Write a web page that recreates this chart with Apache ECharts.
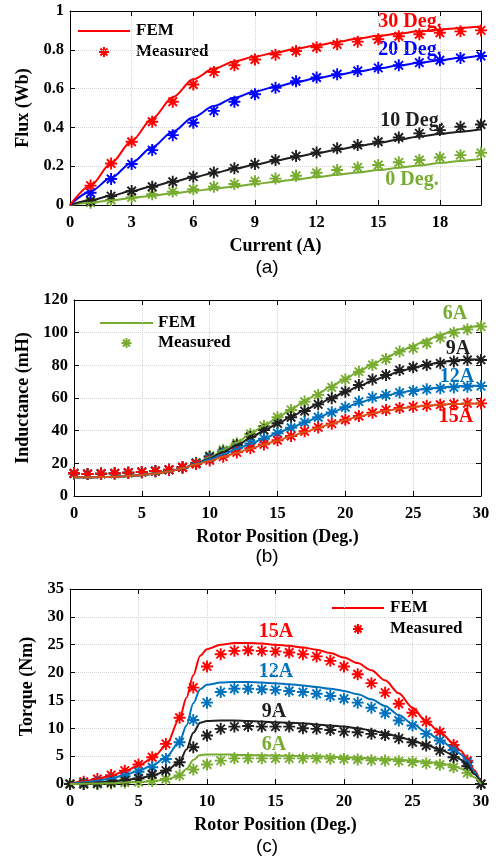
<!DOCTYPE html>
<html><head><meta charset="utf-8">
<script src="https://cdn.jsdelivr.net/npm/echarts@6/dist/echarts.min.js"></script>
<style>html,body{margin:0;padding:0;background:#fff}#c{width:496px;height:859px}</style>
</head><body><div id="c"></div><script>
// ---------- (a) Flux vs Current ----------
const fluxCurrentFem = [0,1,2,3,4,5,6,7,8,9,10,11,12,13,14,15,16,17,18,19,20];
const flux30Fem = [0,0.10,0.215,0.33,0.445,0.555,0.648,0.703,0.74,0.765,0.785,0.805,0.823,0.84,0.858,0.872,0.884,0.895,0.905,0.913,0.92];
const flux20Fem = [0,0.07,0.14,0.218,0.298,0.378,0.452,0.51,0.553,0.585,0.61,0.633,0.653,0.671,0.688,0.704,0.719,0.733,0.746,0.759,0.771];
const flux10Fem = [0,0.024,0.048,0.072,0.096,0.12,0.143,0.165,0.187,0.208,0.228,0.248,0.267,0.285,0.303,0.32,0.337,0.353,0.366,0.378,0.39];
const flux0Fem = [0,0.012,0.024,0.036,0.048,0.06,0.072,0.084,0.096,0.108,0.12,0.132,0.144,0.156,0.168,0.18,0.192,0.204,0.216,0.227,0.238];
const fluxCurrentMeas = [1,2,3,4,5,6,7,8,9,10,11,12,13,14,15,16,17,18,19,20];
const flux30Meas = [0.10,0.214,0.326,0.429,0.532,0.621,0.686,0.72,0.75,0.775,0.794,0.813,0.828,0.842,0.854,0.87,0.88,0.888,0.895,0.90];
const flux20Meas = [0.063,0.134,0.211,0.283,0.36,0.424,0.485,0.532,0.571,0.604,0.638,0.657,0.674,0.691,0.707,0.72,0.734,0.746,0.758,0.768];
const flux10Meas = [0.022,0.046,0.072,0.094,0.12,0.146,0.168,0.189,0.211,0.232,0.252,0.271,0.292,0.309,0.326,0.348,0.369,0.386,0.403,0.415];
const flux0Meas = [0.012,0.026,0.039,0.055,0.069,0.081,0.094,0.108,0.123,0.136,0.151,0.166,0.18,0.194,0.206,0.22,0.232,0.245,0.257,0.269];
const fluxLabels = ['30 Deg.','20 Deg.','10 Deg.','0 Deg.'];

// ---------- (b) Inductance vs Rotor Position ----------
const indPos = [0,1,2,3,4,5,6,7,8,9,10,11,12,13,14,15,16,17,18,19,20,21,22,23,24,25,26,27,28,29,30];
const ind6Fem = [11.5,11.5,11.6,11.8,12.2,12.8,13.7,15.0,17.0,19.8,23.5,28.0,32.8,38.0,43.0,48.0,53.0,58.0,62.8,67.3,71.8,76.3,80.6,84.7,88.5,92.0,95.5,98.6,101.3,103.3,104.7];
const ind9Fem = [11.5,11.5,11.6,11.8,12.2,12.8,13.7,15.0,17.0,19.7,23.0,27.0,31.0,35.5,40.0,44.3,48.5,52.5,56.3,60.0,63.8,67.2,70.5,73.5,76.3,78.5,80.4,81.9,83.0,83.6,83.8];
const ind12Fem = [11.5,11.5,11.6,11.8,12.2,12.8,13.7,15.0,17.0,19.6,22.5,25.5,28.7,32.0,35.2,38.5,41.8,45.0,48.2,51.2,54.2,57.0,59.4,61.5,63.2,64.6,65.7,66.5,67.1,67.5,67.7];
const ind15Fem = [11.5,11.5,11.6,11.8,12.2,12.8,13.7,15.0,17.0,19.4,21.5,24.0,26.5,29.0,31.5,34.0,36.6,39.2,41.8,44.3,46.6,48.7,50.6,52.2,53.5,54.5,55.3,55.9,56.3,56.5,56.6];
const ind6Meas = [13.8,13.4,13.6,13.8,14.2,14.6,15.2,16.0,17.5,20.4,24.5,28.2,32.3,38.0,42.9,48.2,52.7,57.8,61.9,66.5,71.4,76.1,80.2,83.9,88.4,90.4,93.5,97.0,100.0,102.0,103.7];
const ind9Meas = [13.8,13.4,13.6,13.8,14.2,14.6,15.2,16.0,17.5,20.2,24.1,27.1,31.2,36.3,40.4,44.5,48.2,52.0,56.1,59.8,63.9,68.0,71.4,74.1,77.1,78.8,80.2,81.2,82.4,83.3,83.3];
const ind12Meas = [13.9,13.5,13.7,13.9,14.3,14.7,15.3,16.1,17.6,20.0,23.0,26.1,29.2,32.2,35.1,38.4,41.8,45.1,48.2,51.2,54.3,57.8,60.4,61.8,63.3,64.3,65.3,65.9,66.5,66.9,67.3];
const ind15Meas = [13.9,13.5,13.7,13.9,14.3,14.7,15.3,16.1,17.6,19.6,21.8,24.1,26.7,29.2,31.6,34.1,36.7,39.6,42.0,44.3,46.7,49.0,51.0,52.7,53.9,54.7,55.3,55.9,56.3,56.7,56.7];
const currentLabels = ['6A','9A','12A','15A'];

// ---------- (c) Torque vs Rotor Position ----------
const torqueFemPos = [0,1,2,3,4,5,6,7,8,8.5,9,9.5,10,11,12,13,14,15,16,17,18,19,20,21,22,23,24,25,26,27,28,28.5,29,29.5,30];
const t15Fem = [0,0.5,0.9,1.5,2.3,3.3,4.6,6.8,11.8,15.5,19.5,23.0,24.2,25.0,25.3,25.3,25.2,25.0,24.8,24.5,24.1,23.5,22.7,21.7,20.4,18.6,16.3,13.7,11.2,9.3,7.3,6.0,4.6,2.5,0];
const t12Fem = [0,0.3,0.6,1.0,1.6,2.4,3.3,4.8,7.6,10.5,14.5,17.0,17.8,18.2,18.3,18.3,18.2,18.1,17.9,17.7,17.4,17.1,16.7,16.1,15.2,14.0,12.4,10.8,9.3,7.9,6.4,5.4,4.2,2.2,0];
const t9Fem = [0,0.1,0.25,0.45,0.7,1.0,1.5,2.3,4.0,6.2,9.2,11.0,11.3,11.4,11.4,11.3,11.2,11.1,11.0,10.9,10.7,10.5,10.3,10.0,9.6,9.1,8.5,7.8,7.0,6.2,5.2,4.4,3.5,1.8,0];
const t6Fem = [0,0.05,0.1,0.15,0.25,0.35,0.5,0.8,1.5,2.7,4.3,5.2,5.3,5.3,5.25,5.2,5.15,5.1,5.05,5.0,4.95,4.9,4.8,4.7,4.6,4.5,4.35,4.2,4.0,3.7,3.3,2.8,2.3,1.2,0];
const torqueMeasPos = [0,1,2,3,4,5,6,7,8,9,10,11,12,13,14,15,16,17,18,19,20,21,22,23,24,25,26,27,28,29,30];
const t15Meas = [0,0.4,0.9,1.6,2.4,3.5,4.8,7.2,11.9,17.3,21.1,23.3,23.9,24.0,23.9,23.8,23.6,23.3,22.9,22.1,21.1,19.7,18.1,16.4,14.4,12.8,11.2,9.3,7.0,4.2,0];
const t12Meas = [0,0.1,0.35,0.8,1.4,2.2,3.0,4.5,7.5,11.5,14.6,16.5,17.1,17.1,17.0,16.9,16.7,16.5,16.2,15.8,15.3,14.6,13.7,12.7,11.4,10.5,9.0,7.8,6.1,3.9,0];
const t9Meas = [0,0,0.1,0.3,0.6,1.0,1.7,2.4,3.9,6.6,8.7,9.9,10.3,10.4,10.3,10.3,10.3,10.0,9.9,9.7,9.4,9.3,9.0,8.8,8.2,7.5,6.9,6.0,4.8,3.2,0];
const t6Meas = [0,0,0,0.1,0.25,0.35,0.55,0.9,1.55,2.6,3.5,4.2,4.6,4.6,4.6,4.6,4.6,4.6,4.6,4.55,4.5,4.4,4.25,4.2,4.1,3.95,3.7,3.45,3.0,2.0,0];

const legendTexts = ['FEM','Measured'];
const subTitles = ['(a)','(b)','(c)'];

// ---------- styling ----------
const SERIF = '"Liberation Serif","Times New Roman",serif';
const RED = '#FF0000', BLUE = '#0000FF', BLACK = '#1F1F1F', GREEN = '#77AC30', MBLUE = '#0072BD', ORANGE = '#D95319';
const STAR = 'path://M-10,-1.6L10,-1.6L10,1.6L-10,1.6Z M-1.6,-10L1.6,-10L1.6,10L-1.6,10Z M-5.94,-8.2L8.2,5.94L5.94,8.2L-8.2,-5.94Z M-8.2,5.94L5.94,-8.2L8.2,-5.94L-5.94,8.2Z';

const pairs = (xs, ys) => xs.map((x, i) => [x, ys[i]]);

function axes(g, x0, x1, xi, y0, y1, yi, xname, yname, xgap, ygap, hideXMax) {
  const lab = {color:'#000', fontFamily:SERIF, fontWeight:'bold', fontSize:16.5};
  const nameStyle = {color:'#000', fontFamily:SERIF, fontWeight:'bold', fontSize:18};
  const line = {show:true, onZero:false, lineStyle:{color:'#000', width:1}};
  const tick = {show:true, inside:true, length:5, lineStyle:{color:'#000'}};
  const split = {show:true, lineStyle:{color:'#d4d4d4', type:'dotted', width:1}};
  const xs = [
    {gridIndex:g, type:'value', min:x0, max:x1, interval:xi, position:'bottom',
     axisLine:line, axisTick:tick, splitLine:split,
     axisLabel:Object.assign({margin:9, showMaxLabel:!hideXMax}, lab),
     name:xname, nameLocation:'middle', nameGap:xgap, nameTextStyle:nameStyle},
    {gridIndex:g, type:'value', min:x0, max:x1, interval:xi, position:'top',
     axisLine:line, axisTick:tick, splitLine:{show:false}, axisLabel:{show:false}}
  ];
  const ys = [
    {gridIndex:g, type:'value', min:y0, max:y1, interval:yi, position:'left',
     axisLine:line, axisTick:tick, splitLine:split,
     axisLabel:Object.assign({margin:6}, lab),
     name:yname, nameLocation:'middle', nameGap:ygap, nameTextStyle:nameStyle},
    {gridIndex:g, type:'value', min:y0, max:y1, interval:yi, position:'right',
     axisLine:line, axisTick:tick, splitLine:{show:false}, axisLabel:{show:false}}
  ];
  return [xs, ys];
}

const A = axes(0, 0, 20, 3, 0, 1, 0.2, 'Current (A)', 'Flux (Wb)', 32, 36, true);
const B = axes(1, 0, 30, 5, 0, 120, 20, 'Rotor Position (Deg.)', 'Inductance (mH)', 32, 42, false);
const C = axes(2, 0, 30, 5, 0, 35, 5, 'Rotor Position (Deg.)', 'Torque (Nm)', 32, 34, false);

function fem(ax, xs, ys, color, smooth) {
  return {type:'line', xAxisIndex:ax, yAxisIndex:ax, data:pairs(xs, ys), showSymbol:false, symbol:'none',
    smooth:smooth, smoothMonotone:'x', lineStyle:{color:color, width:2}, silent:true, animation:false};
}
function meas(ax, xs, ys, color) {
  return {type:'scatter', xAxisIndex:ax, yAxisIndex:ax, data:pairs(xs, ys), symbol:STAR, symbolSize:12,
    itemStyle:{color:color, opacity:1}, silent:true, animation:false};
}

const series = [
  fem(0, fluxCurrentFem, flux0Fem, GREEN, 0.3),
  fem(0, fluxCurrentFem, flux10Fem, BLACK, 0.3),
  fem(0, fluxCurrentFem, flux20Fem, BLUE, 0.3),
  fem(0, fluxCurrentFem, flux30Fem, RED, 0.3),
  meas(0, fluxCurrentMeas, flux0Meas, GREEN),
  meas(0, fluxCurrentMeas, flux10Meas, BLACK),
  meas(0, fluxCurrentMeas, flux20Meas, BLUE),
  meas(0, fluxCurrentMeas, flux30Meas, RED),

  fem(2, indPos, ind6Fem, GREEN, 0.3),
  meas(2, indPos, ind6Meas, GREEN),
  fem(2, indPos, ind9Fem, BLACK, 0.3),
  meas(2, indPos, ind9Meas, BLACK),
  fem(2, indPos, ind12Fem, MBLUE, 0.3),
  meas(2, indPos, ind12Meas, MBLUE),
  fem(2, indPos, ind15Fem, ORANGE, 0.3),
  meas(2, indPos, ind15Meas, RED),

  fem(4, torqueFemPos, t15Fem, RED, 0.3),
  fem(4, torqueFemPos, t12Fem, MBLUE, 0.3),
  fem(4, torqueFemPos, t9Fem, BLACK, 0.3),
  fem(4, torqueFemPos, t6Fem, GREEN, 0.3),
  meas(4, torqueMeasPos, t15Meas, RED),
  meas(4, torqueMeasPos, t12Meas, MBLUE),
  meas(4, torqueMeasPos, t6Meas, GREEN),
  meas(4, torqueMeasPos, t9Meas, BLACK)
];

function txt(x, y, text, color, size, family, align) {
  return {type:'text', x:x, y:y, silent:true,
    style:{text:text, fill:color, font:'bold ' + size + 'px ' + family, align:align || 'center', verticalAlign:'middle'}};
}
function star(cx, cy, r, color) {
  const d = r * 0.7071;
  const ln = (x1, y1, x2, y2) => ({type:'line', shape:{x1:x1, y1:y1, x2:x2, y2:y2}, style:{stroke:color, lineWidth:2}});
  return {type:'group', x:cx, y:cy, silent:true, children:[ln(-r,0,r,0), ln(0,-r,0,r), ln(-d,-d,d,d), ln(-d,d,d,-d)]};
}
function legend(x1, x2, y1, y2, tx, color) {
  return [
    {type:'line', silent:true, shape:{x1:x1, y1:y1, x2:x2, y2:y1}, style:{stroke:color, lineWidth:2}},
    star((x1 + x2) / 2, y2, 5, color),
    txt(tx, y1, legendTexts[0], '#000', 17, SERIF, 'left'),
    txt(tx, y2, legendTexts[1], '#000', 17, SERIF, 'left')
  ];
}

const graphic = [].concat(
  legend(78, 130, 31, 52, 136, RED),
  legend(100, 153, 323, 343, 158, GREEN),
  legend(332, 384, 608, 629, 390, RED),
  [
    txt(410, 22, fluxLabels[0], RED, 20, SERIF),
    txt(410, 50, fluxLabels[1], BLUE, 20, SERIF),
    txt(412, 121, fluxLabels[2], BLACK, 20, SERIF),
    txt(412, 180, fluxLabels[3], GREEN, 20, SERIF),
    txt(455, 314, currentLabels[0], GREEN, 20, SERIF),
    txt(458, 349, currentLabels[1], BLACK, 20, SERIF),
    txt(457, 377, currentLabels[2], MBLUE, 20, SERIF),
    txt(456, 417, currentLabels[3], RED, 20, SERIF),
    txt(276, 632, currentLabels[3], RED, 20, SERIF),
    txt(276, 672, currentLabels[2], MBLUE, 20, SERIF),
    txt(274, 712, currentLabels[1], BLACK, 20, SERIF),
    txt(274, 745, currentLabels[0], GREEN, 20, SERIF),
    {type:'text', x:267, y:268, silent:true, style:{text:subTitles[0], fill:'#000', font:'19px "Liberation Sans", Arial, sans-serif', align:'center', verticalAlign:'middle'}},
    {type:'text', x:267, y:557, silent:true, style:{text:subTitles[1], fill:'#000', font:'19px "Liberation Sans", Arial, sans-serif', align:'center', verticalAlign:'middle'}},
    {type:'text', x:267, y:847, silent:true, style:{text:subTitles[2], fill:'#000', font:'19px "Liberation Sans", Arial, sans-serif', align:'center', verticalAlign:'middle'}}
  ]
);

const chart = echarts.init(document.getElementById('c'), null, {renderer:'canvas'});
chart.setOption({
  backgroundColor:'#fff',
  animation:false,
  grid:[
    {left:70, top:11, width:411, height:194},
    {left:74, top:300, width:407, height:196},
    {left:70, top:589, width:411, height:195}
  ],
  xAxis:[].concat(A[0], B[0], C[0]),
  yAxis:[].concat(A[1], B[1], C[1]),
  series:series,
  graphic:graphic
});
</script></body></html>
